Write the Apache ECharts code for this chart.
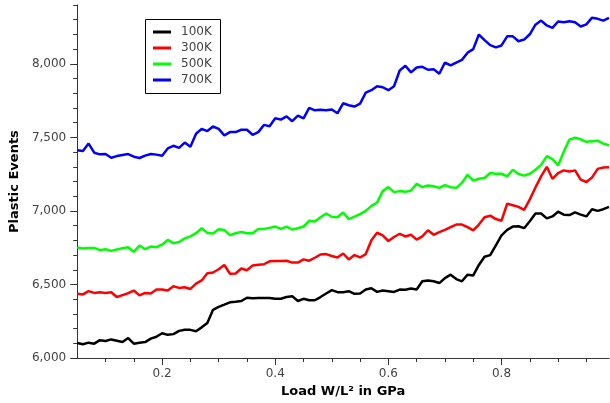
<!DOCTYPE html>
<html>
<head>
<meta charset="utf-8">
<script src="https://cdn.jsdelivr.net/npm/echarts@6/dist/echarts.min.js"></script>
<style>
  html, body { margin: 0; padding: 0; background: #fff; }
  #chart { width: 610px; height: 403px; }
</style>
</head>
<body>
<div id="chart"></div>
<script>
// Load W/L^2 (GPa) sampled every 0.01
const loads = [
  0.05,0.06,0.07,0.08,0.09,0.10,0.11,0.12,0.13,0.14,
  0.15,0.16,0.17,0.18,0.19,0.20,0.21,0.22,0.23,0.24,
  0.25,0.26,0.27,0.28,0.29,0.30,0.31,0.32,0.33,0.34,
  0.35,0.36,0.37,0.38,0.39,0.40,0.41,0.42,0.43,0.44,
  0.45,0.46,0.47,0.48,0.49,0.50,0.51,0.52,0.53,0.54,
  0.55,0.56,0.57,0.58,0.59,0.60,0.61,0.62,0.63,0.64,
  0.65,0.66,0.67,0.68,0.69,0.70,0.71,0.72,0.73,0.74,
  0.75,0.76,0.77,0.78,0.79,0.80,0.81,0.82,0.83,0.84,
  0.85,0.86,0.87,0.88,0.89,0.90,0.91,0.92,0.93,0.94,
  0.95,0.96,0.97,0.98,0.99
];

// Plastic events per temperature
const events100K = [
  6102,6094,6105,6098,6122,6116,6127,6118,6109,6136,
  6098,6105,6109,6132,6145,6169,6158,6163,6185,6192,
  6192,6183,6209,6239,6328,6348,6363,6379,6383,6388,
  6410,6407,6408,6408,6408,6403,6403,6415,6421,6388,
  6403,6393,6393,6415,6439,6462,6448,6448,6455,6437,
  6439,6466,6475,6450,6459,6455,6450,6466,6464,6473,
  6466,6522,6528,6522,6510,6544,6567,6537,6522,6567,
  6562,6633,6689,6700,6767,6834,6872,6894,6896,6883,
  6930,6983,6983,6950,6963,6995,6975,6972,6990,6975,
  6963,7012,7001,7012,7028
];
const events300K = [
  6437,6433,6455,6443,6448,6443,6448,6415,6428,6441,
  6459,6426,6443,6439,6466,6466,6459,6488,6477,6482,
  6470,6506,6528,6577,6582,6604,6633,6573,6575,6609,
  6597,6630,6635,6638,6658,6660,6660,6662,6649,6649,
  6671,6662,6682,6704,6707,6694,6684,6711,6671,6700,
  6684,6707,6801,6852,6834,6796,6823,6845,6827,6838,
  6805,6827,6869,6838,6856,6871,6890,6908,6908,6890,
  6868,6908,6957,6968,6945,6934,7050,7039,7028,7008,
  7079,7160,7235,7300,7219,7258,7276,7269,7276,7213,
  7197,7228,7286,7296,7298
];
const events500K = [
  6751,6745,6749,6749,6734,6740,6729,6738,6747,6754,
  6722,6765,6740,6758,6754,6771,6803,6781,6789,6814,
  6827,6849,6883,6851,6847,6876,6870,6836,6849,6858,
  6849,6849,6878,6878,6885,6894,6878,6894,6874,6883,
  6894,6934,6928,6957,6983,6961,6957,6990,6945,6961,
  6979,7001,7035,7057,7135,7162,7128,7135,7130,7139,
  7184,7162,7173,7168,7157,7175,7162,7157,7191,7246,
  7206,7219,7224,7258,7253,7253,7235,7280,7251,7240,
  7253,7280,7313,7373,7353,7309,7403,7485,7498,7487,
  7470,7474,7478,7458,7447
];
const events700K = [
  7413,7407,7458,7396,7385,7387,7362,7373,7380,7387,
  7369,7360,7376,7387,7383,7376,7425,7443,7429,7465,
  7436,7525,7558,7543,7574,7558,7514,7536,7536,7552,
  7552,7518,7536,7585,7576,7630,7621,7643,7610,7648,
  7630,7701,7684,7688,7684,7690,7664,7732,7719,7710,
  7730,7804,7821,7848,7841,7821,7848,7955,7987,7942,
  7975,7980,7960,7964,7933,8009,7989,8009,8027,8076,
  8100,8199,8161,8127,8112,8125,8187,8187,8154,8165,
  8201,8266,8294,8261,8245,8288,8283,8290,8283,8254,
  8268,8314,8306,8294,8312
];

const seriesNames = ['100K', '300K', '500K', '700K'];
const seriesColors = ['#000000', '#ff0000', '#00ff00', '#0000ff'];
const seriesValues = [events100K, events300K, events500K, events700K];

// Axis tick positions
const xMajorTicks = [0.2, 0.4, 0.6, 0.8];
const xMinorTicks = [0.1, 0.15, 0.25, 0.3, 0.35, 0.45, 0.5, 0.55, 0.65, 0.7, 0.75, 0.85, 0.9, 0.95];
const yMajorTicks = [6000, 6500, 7000, 7500, 8000];
const yMinorTicks = [6100, 6200, 6300, 6400, 6600, 6700, 6800, 6900, 7100, 7200, 7300, 7400,
                     7600, 7700, 7800, 7900, 8100, 8200, 8300, 8400];

const FONT = 'DejaVu Sans';
const AXIS_COLOR = '#333';
const LABEL_COLOR = '#444';

const X_MIN = 0.05, X_MAX = 0.99, Y_MIN = 6000, Y_MAX = 8400;

// Legend frame placement
const LEGEND_LEFT = 145, LEGEND_TOP = 19, LEGEND_W = 75, LEGEND_H = 74;

const chart = echarts.init(document.getElementById('chart'), null, { renderer: 'canvas' });

const fmtThousands = v => String(Math.round(v)).replace(/\B(?=(\d{3})+(?!\d))/g, ',');

chart.setOption({
  animation: false,
  backgroundColor: '#fff',
  textStyle: { fontFamily: FONT },
  grid: { left: 73, right: 1, top: 5, bottom: 40, containLabel: false },
  graphic: [{
    type: 'rect',
    left: LEGEND_LEFT,
    top: LEGEND_TOP,
    z: 100,
    shape: { width: LEGEND_W, height: LEGEND_H },
    style: { fill: '#fff', stroke: '#000', lineWidth: 1 }
  }],
  legend: {
    orient: 'vertical',
    left: LEGEND_LEFT,
    top: LEGEND_TOP,
    z: 200,
    padding: [5, 8, 4, 8],
    itemGap: 0,
    itemWidth: 18,
    itemHeight: 3,
    icon: 'rect',
    textStyle: { fontFamily: FONT, fontSize: 12, color: LABEL_COLOR, lineHeight: 16, padding: [0, 0, 0, 5] },
    data: seriesNames
  },
  xAxis: [
    {
      type: 'value',
      min: X_MIN,
      max: X_MAX,
      name: 'Load W/L² in GPa',
      nameLocation: 'middle',
      nameGap: 22,
      nameTextStyle: { fontFamily: FONT, fontSize: 13, fontWeight: 'bold', color: '#000' },
      axisLine: { show: true, lineStyle: { color: AXIS_COLOR, width: 1 } },
      axisTick: { show: true, length: 7, customValues: xMajorTicks, lineStyle: { color: AXIS_COLOR } },
      axisLabel: {
        customValues: xMajorTicks, margin: 10, color: LABEL_COLOR,
        fontFamily: FONT, fontSize: 12, formatter: v => v.toFixed(1)
      },
      splitLine: { show: false }
    },
    {
      type: 'value',
      min: X_MIN,
      max: X_MAX,
      position: 'bottom',
      axisLine: { show: false },
      axisTick: { show: true, length: 4, customValues: xMinorTicks, lineStyle: { color: AXIS_COLOR } },
      axisLabel: { show: false },
      splitLine: { show: false }
    }
  ],
  yAxis: [
    {
      type: 'value',
      min: Y_MIN,
      max: Y_MAX,
      name: 'Plastic Events',
      nameLocation: 'middle',
      nameGap: 52,
      nameTextStyle: { fontFamily: FONT, fontSize: 13, fontWeight: 'bold', color: '#000' },
      axisLine: { show: true, lineStyle: { color: AXIS_COLOR, width: 1 } },
      axisTick: { show: true, length: 7, customValues: yMajorTicks, lineStyle: { color: AXIS_COLOR } },
      axisLabel: {
        customValues: yMajorTicks, margin: 11, color: LABEL_COLOR,
        fontFamily: FONT, fontSize: 12, formatter: fmtThousands
      },
      splitLine: { show: false }
    },
    {
      type: 'value',
      min: Y_MIN,
      max: Y_MAX,
      position: 'left',
      axisLine: { show: false },
      axisTick: { show: true, length: 4, customValues: yMinorTicks, lineStyle: { color: AXIS_COLOR } },
      axisLabel: { show: false },
      splitLine: { show: false }
    }
  ],
  series: seriesNames.map((name, k) => ({
    name,
    type: 'line',
    xAxisIndex: 0,
    yAxisIndex: 0,
    showSymbol: false,
    symbol: 'none',
    color: seriesColors[k],
    lineStyle: { width: 2.5, color: seriesColors[k] },
    data: loads.map((x, i) => [x, seriesValues[k][i]])
  }))
});
</script>
</body>
</html>
